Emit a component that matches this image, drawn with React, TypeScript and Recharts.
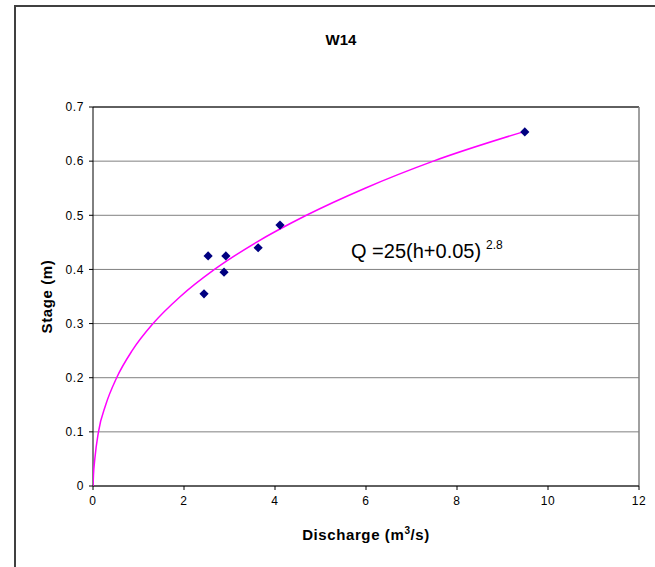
import { ScatterChart, Scatter, XAxis, YAxis, CartesianGrid, ReferenceLine, Label } from 'recharts'

// observed gaugings (discharge m3/s, stage m)
const obsDischarge = [2.44, 2.53, 2.88, 2.92, 3.63, 4.11, 9.49]
const obsStage = [0.355, 0.425, 0.395, 0.425, 0.44, 0.482, 0.654]

// rating curve
const fitDischarge = [0, 0.01, 0.04, 0.12, 0.28, 0.52, 0.86, 1.32, 1.92, 2.67, 3.59, 4.69, 5.98, 7.48, 9.49]
const fitStage = [0, 0.02, 0.05, 0.1, 0.15, 0.2, 0.25, 0.3, 0.35, 0.4, 0.45, 0.5, 0.55, 0.6, 0.655]

const xTicks = [0, 2, 4, 6, 8, 10, 12]
const yTicks = [0, 0.1, 0.2, 0.3, 0.4, 0.5, 0.6, 0.7]

const font = '"Liberation Sans", Arial, sans-serif'

const points = obsDischarge.map((q, i) => ({ q, h: obsStage[i] }))
const curve = fitDischarge.map((q, i) => ({ q, h: fitStage[i] }))

const Diamond = (props: any) => {
  const { cx, cy } = props
  const r = 4.6
  return (
    <polygon
      points={`${cx},${cy - r} ${cx + r},${cy} ${cx},${cy + r} ${cx - r},${cy}`}
      fill="#000080"
    />
  )
}

const tickStyle = { fontSize: 12, fill: '#000', fontFamily: font, letterSpacing: 0.6 }

export default function App() {
  return (
    <div style={{ position: 'absolute', left: 0, top: 0, width: 655, height: 567, background: '#fff', fontFamily: font }}>
      <div
        style={{
          position: 'absolute',
          left: 14,
          top: 5,
          width: 700,
          height: 600,
          borderLeft: '2px solid #404040',
          borderTop: '2px solid #404040',
        }}
      />
      <div style={{ position: 'absolute', left: 0, width: 682, top: 31, textAlign: 'center', fontWeight: 'bold', fontSize: 15 }}>
        W14
      </div>
      <ScatterChart
        width={655}
        height={567}
        margin={{ top: 107, right: 16, bottom: 21, left: 0 }}
        style={{ position: 'absolute', left: 0, top: 0 }}
      >
        <CartesianGrid vertical={false} stroke="#808080" horizontalValues={yTicks} />
        <XAxis
          type="number"
          dataKey="q"
          domain={[0, 12]}
          ticks={xTicks}
          allowDataOverflow
          axisLine={{ stroke: '#000' }}
          tickLine={{ stroke: '#000' }}
          tickSize={4}
          tickMargin={6}
          height={60}
          tick={tickStyle}
        >
          <Label
            content={({ viewBox }: any) => (
              <text
                x={viewBox.x + viewBox.width / 2}
                y={viewBox.y + 54}
                textAnchor="middle"
                fontWeight="bold"
                fontSize={15}
                letterSpacing={0.6}
                fontFamily={font}
                fill="#000"
              >
                Discharge (m
                <tspan dy={-6} fontSize={10}>3</tspan>
                <tspan dy={6}>/s)</tspan>
              </text>
            )}
          />
        </XAxis>
        <YAxis
          type="number"
          dataKey="h"
          domain={[0, 0.7]}
          ticks={yTicks}
          allowDataOverflow
          width={93}
          axisLine={{ stroke: '#000' }}
          tickLine={{ stroke: '#000' }}
          tickSize={4}
          tickMargin={5}
          tick={tickStyle}
        >
          <Label
            value="Stage (m)"
            angle={-90}
            position="insideLeft"
            offset={47}
            style={{ fontWeight: 'bold', fontSize: 15, letterSpacing: 0.6, fontFamily: font, fill: '#000', textAnchor: 'middle' }}
          />
        </YAxis>
        <ReferenceLine y={0.7} stroke="#000" />
        <ReferenceLine x={12} stroke="#808080" strokeWidth={1.5} />
        <Scatter
          data={curve}
          line={{ stroke: '#ff00ff', strokeWidth: 1.5 }}
          lineJointType="monotoneX"
          shape={() => <g />}
          isAnimationActive={false}
        />
        <Scatter data={points} shape={Diamond} isAnimationActive={false} />
      </ScatterChart>
      <div style={{ position: 'absolute', left: 351, top: 240, fontSize: 20, lineHeight: '22px', color: '#000', whiteSpace: 'nowrap' }}>
        Q =25(h+0.05)<span style={{ fontSize: 12, position: 'relative', top: -9, marginLeft: 5 }}>2.8</span>
      </div>
    </div>
  )
}
